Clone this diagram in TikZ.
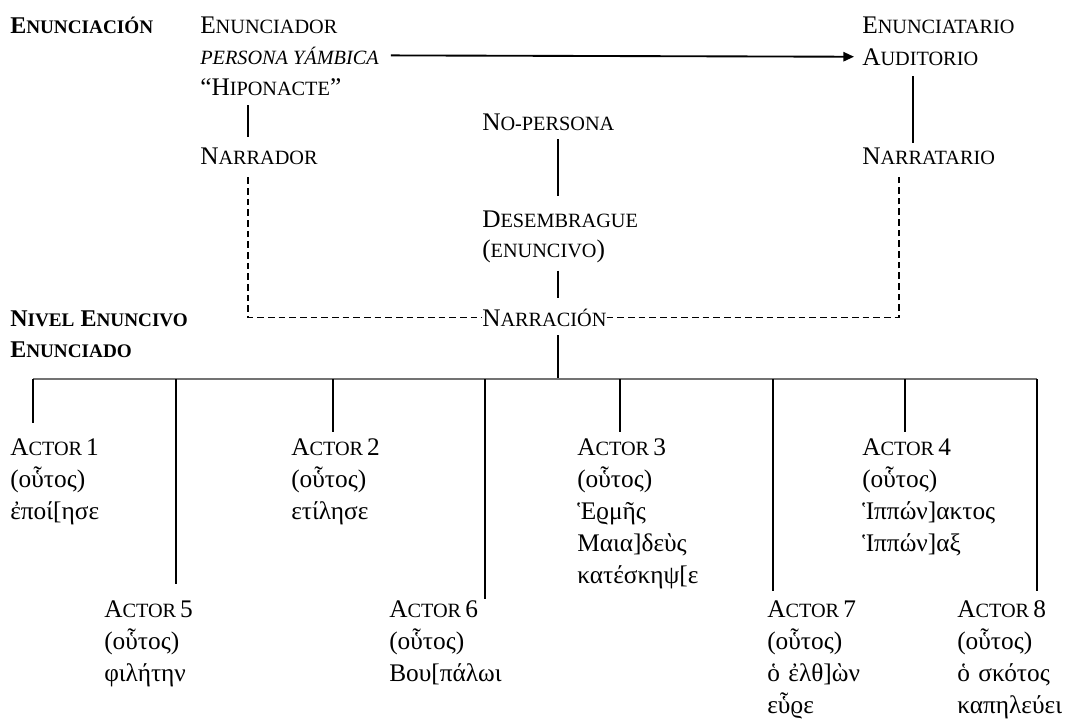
\documentclass[tikz,border=0pt]{standalone}
\usepackage{fontspec}
\setmainfont{Liberation Serif}
\usetikzlibrary{arrows.meta,calc}
\newcommand\scx[1]{{\fontsize{15.2}{24}\selectfont #1}}
\newcommand\scb[1]{{\fontsize{14.4}{24}\selectfont #1}}
\newcommand\actr[1]{A\scx{CTOR}\kern3pt #1}
\begin{document}
\begin{tikzpicture}[x=0.75pt,y=-0.75pt,
  txt/.style={anchor=base west,inner sep=0pt,font=\fontsize{19}{24}\selectfont},
  hdr/.style={txt,font=\fontsize{18}{24}\selectfont\bfseries},
  actor/.style={txt,text width=170pt,align=left},
  ln/.style={line width=1.25pt},
  dsh/.style={line width=1.25pt,dash pattern=on 5pt off 3pt},
  arr/.style={line width=1.4pt,-{Triangle[length=8pt,width=7pt]}},
  barline/.style={line width=0.9pt,black!55}]
\useasboundingbox (0,0) rectangle (1075,718);
% x positions of vertical connectors
\coordinate (xL) at (248,0);
\coordinate (xC) at (558,0);
\coordinate (xR) at (913,0);
\coordinate (xD) at (899,0);
\coordinate (barL) at (33,379);
\coordinate (barR) at (1037,379);
\coordinate (s1) at (33,0);
\coordinate (s2) at (333,0);
\coordinate (s3) at (620,0);
\coordinate (s4) at (905,0);
\coordinate (s5) at (176,0);
\coordinate (s6) at (485,0);
\coordinate (s7) at (773,0);
\coordinate (s8) at (1037,0);

% headers
\node[hdr] (enunciacion) at (10,33) {E\scb{NUNCIACIÓN}};
\node[hdr] (nivel) at (10,326) {N\scb{IVEL} E\scb{NUNCIVO}};
\node[hdr] (enunciado) at (10,357) {E\scb{NUNCIADO}};

% upper level
\node[txt] (enunciador) at (200,33) {E\scx{NUNCIADOR}};
\node[txt] (persona) at (200,64) {\itshape\scx{PERSONA YÁMBICA}};
\node[txt] (hipo) at (200,95) {“H\scx{IPONACTE}”};
\node[txt] (narrador) at (200,164) {N\scx{ARRADOR}};
\node[txt] (enunciatario) at (862,33) {E\scx{NUNCIATARIO}};
\node[txt] (auditorio) at (862,65) {A\scx{UDITORIO}};
\node[txt] (narratario) at (862,164) {N\scx{ARRATARIO}};
\node[txt] (nopersona) at (482,130) {N\scx{O-PERSONA}};
\node[txt] (desemb) at (482,227) {D\scx{ESEMBRAGUE}};
\node[txt] (enuncivo) at (482,257) {(\scx{ENUNCIVO})};
\node[txt] (narracion) at (482,326) {N\scx{ARRACIÓN}};

% actors
\node[actor] (a1) at (10,455) {\actr{1}\\(οὗτος)\\ἐποί[ησε};
\node[actor] (a2) at (291,455) {\actr{2}\\(οὗτος)\\ετίλησε};
\node[actor] (a3) at (577,455) {\actr{3}\\(οὗτος)\\Ἑϱμῆς\\Μαια]δεὺς\\κατέσκηψ[ε};
\node[actor] (a4) at (862,455) {\actr{4}\\(οὗτος)\\Ἱππών]ακτος\\Ἱππών]αξ};
\node[actor] (a5) at (104,617) {\actr{5}\\(οὗτος)\\φιλήτην};
\node[actor] (a6) at (389,617) {\actr{6}\\(οὗτος)\\Βου[πάλωι};
\node[actor] (a7) at (767,617) {\actr{7}\\(οὗτος)\\ὁ ἐλθ]ὼν\\εὗϱε};
\node[actor] (a8) at (957,617) {\actr{8}\\(οὗτος)\\ὁ σκότος\\καπηλεύει};

% connectors upper level
\draw[arr] ([xshift=9pt]persona.east) -- ([xshift=-6pt]auditorio.west);
\draw[ln] ($(hipo.south -| xL)+(0,10)$) -- ($(narrador.north -| xL)+(0,-10)$);
\draw[ln] ($(auditorio.south -| xR)+(0,11)$) -- ($(narratario.north -| xR)+(0,-4)$);
\draw[ln] ($(nopersona.south -| xC)+(0,9)$) -- ($(desemb.north -| xC)+(0,-14)$);
\draw[ln] ($(enuncivo.south -| xC)+(0,8)$) -- ($(narracion.north -| xC)+(0,-10)$);
\draw[dsh] ($(narrador.south -| xL)+(0,13)$) |- (narracion.west);
\draw[dsh] (narracion.east) -| ($(narratario.south -| xD)+(0,13)$);
\draw[ln] ($(narracion.south -| xC)+(0,9)$) -- (xC |- barL);

% bar and stems
\draw[barline] (barL) -- (barR);
\draw[ln] (s1 |- barL) -- ($(a1.north -| s1)+(0,-15)$);
\draw[ln] (s2 |- barL) -- ($(a2.north -| s2)+(0,-6)$);
\draw[ln] (s3 |- barL) -- ($(a3.north -| s3)+(0,-6)$);
\draw[ln] (s4 |- barL) -- ($(a4.north -| s4)+(0,-6)$);
\draw[ln] (s5 |- barL) -- ($(a5.north -| s5)+(0,-16)$);
\draw[ln] (s6 |- barL) -- ($(a6.north -| s6)+(0,-1)$);
\draw[ln] (s7 |- barL) -- ($(a7.north -| s7)+(0,-9)$);
\draw[ln] (s8 |- barL) -- ($(a8.north -| s8)+(0,-9)$);
\end{tikzpicture}
\end{document}
